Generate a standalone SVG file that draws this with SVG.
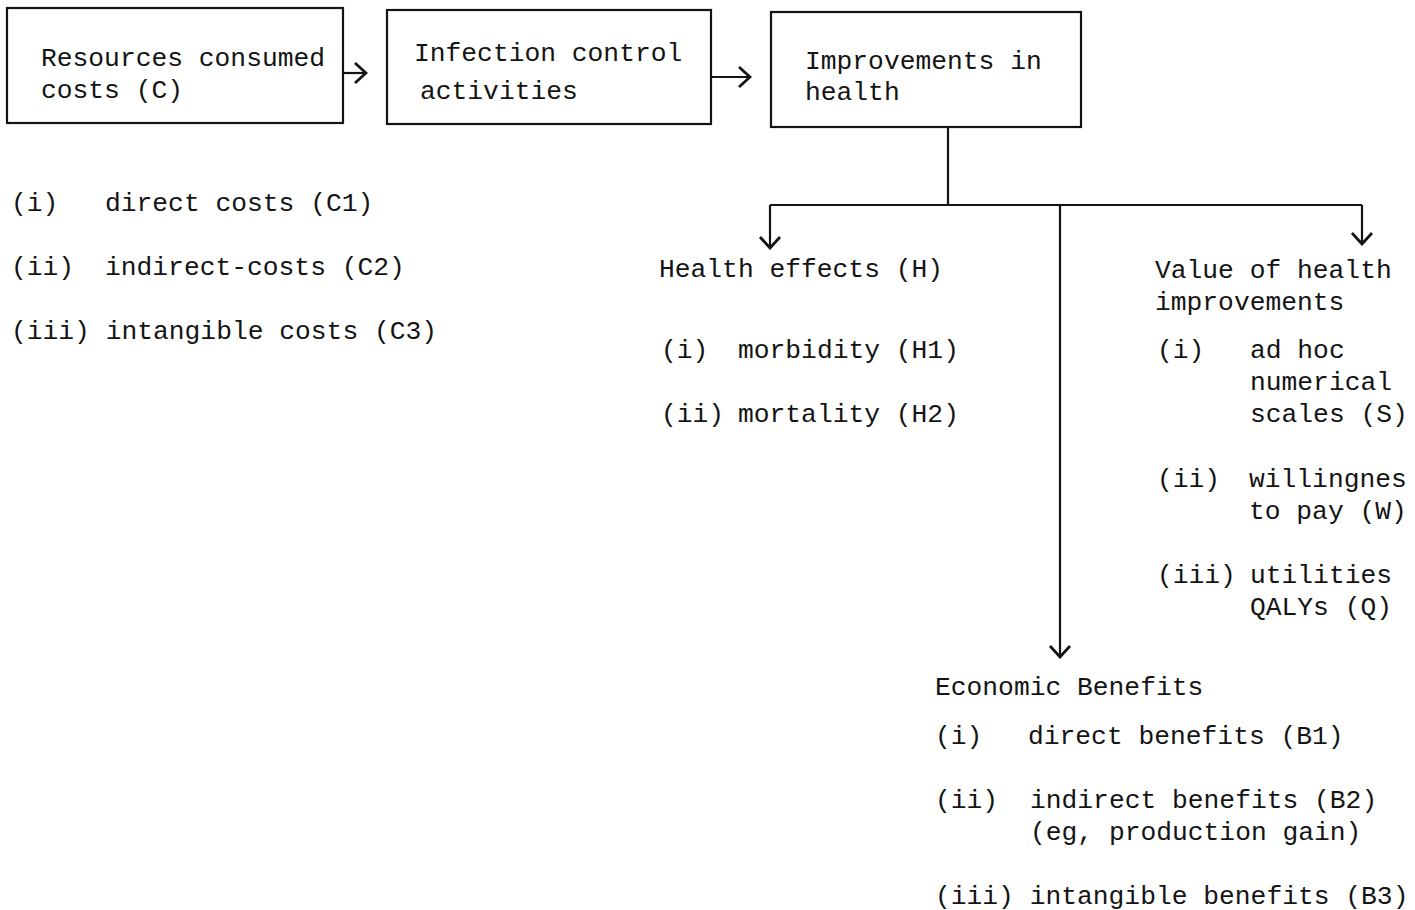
<svg xmlns="http://www.w3.org/2000/svg" width="1415" height="910" viewBox="0 0 1415 910">
<style>
text{font-family:"Liberation Mono","DejaVu Sans Mono",monospace;font-size:26.3px;fill:#141414}
.box{fill:none;stroke:#141414;stroke-width:2.2}
.ln{fill:none;stroke:#141414;stroke-width:2.2}
</style>
<defs>
<marker id="ah" viewBox="-14 -12 16 24" refX="0" refY="0" markerWidth="16" markerHeight="24" markerUnits="userSpaceOnUse" orient="auto">
<path d="M-11,-10 L0,0 L-11,10" fill="none" stroke="#141414" stroke-width="2.8"/>
</marker>
</defs>
<rect width="1415" height="910" fill="#fff"/>
<g id="connectors">
<line class="ln" x1="343" y1="73" x2="366" y2="73" marker-end="url(#ah)"/>
<line class="ln" x1="711" y1="77" x2="750" y2="77" marker-end="url(#ah)"/>
<line class="ln" x1="948" y1="127" x2="948" y2="205"/>
<line class="ln" x1="770" y1="205" x2="1362" y2="205"/>
<line class="ln" x1="770" y1="205" x2="770" y2="248" marker-end="url(#ah)"/>
<line class="ln" x1="1362" y1="205" x2="1362" y2="244" marker-end="url(#ah)"/>
<line class="ln" x1="1060" y1="205" x2="1060" y2="657" marker-end="url(#ah)"/>
</g>
<g id="node-resources">
<rect class="box" x="7" y="8" width="336" height="115"/>
<text x="41" y="66">Resources consumed</text>
<text x="41" y="98">costs (C)</text>
</g>
<g id="node-infection">
<rect class="box" x="387" y="10" width="324" height="114"/>
<text x="414" y="61">Infection control</text>
<text x="420" y="99">activities</text>
</g>
<g id="node-improvements">
<rect class="box" x="771" y="12" width="310" height="115"/>
<text x="805" y="69">Improvements in</text>
<text x="805" y="100">health</text>
</g>
<g id="node-costs-list">
<text x="11" y="211">(i)</text>
<text x="105" y="211">direct costs (C1)</text>
<text x="11" y="275">(ii)</text>
<text x="105" y="275">indirect-costs (C2)</text>
<text x="11" y="339">(iii) intangible costs (C3)</text>
</g>
<g id="node-health-effects">
<text x="659" y="277">Health effects (H)</text>
<text x="661" y="358">(i)</text>
<text x="738" y="358">morbidity (H1)</text>
<text x="661" y="422">(ii)</text>
<text x="738" y="422">mortality (H2)</text>
</g>
<g id="node-value">
<text x="1155" y="278">Value of health</text>
<text x="1155" y="310">improvements</text>
<text x="1157" y="358">(i)</text>
<text x="1250" y="358">ad hoc</text>
<text x="1250" y="390">numerical</text>
<text x="1250" y="422">scales (S)</text>
<text x="1157" y="487">(ii)</text>
<text x="1249" y="487">willingnes</text>
<text x="1249" y="519">to pay (W)</text>
<text x="1157" y="583">(iii)</text>
<text x="1250" y="583">utilities</text>
<text x="1250" y="615">QALYs  (Q)</text>
</g>
<g id="node-economic">
<text x="935" y="695">Economic Benefits</text>
<text x="935" y="744">(i)</text>
<text x="1028" y="744">direct benefits (B1)</text>
<text x="935" y="808">(ii)</text>
<text x="1030" y="808">indirect benefits (B2)</text>
<text x="1030" y="840">(eg, production gain)</text>
<text x="935" y="904">(iii) intangible benefits (B3)</text>
</g>
</svg>
